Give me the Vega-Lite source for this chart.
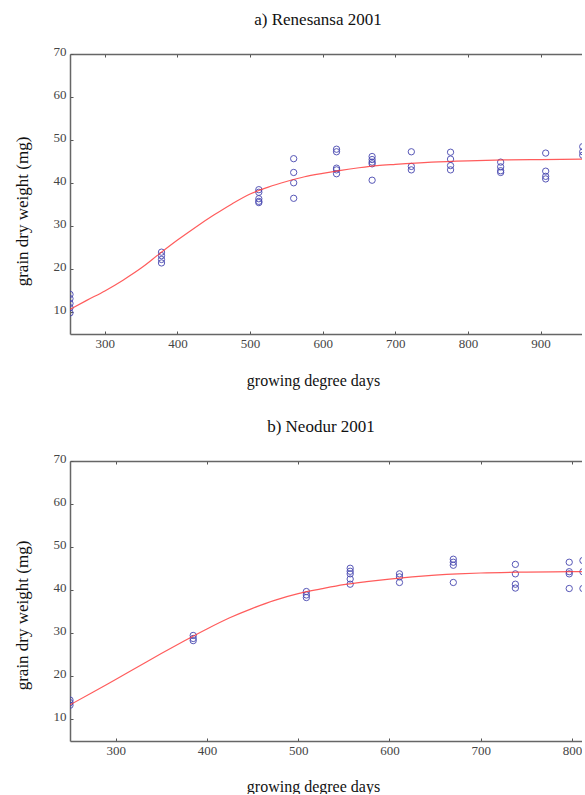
{
  "$schema": "https://vega.github.io/schema/vega-lite/v6.json",
  "background": "white",
  "padding": {"left": 13, "top": 11, "right": 0, "bottom": 0},
  "config": {
    "view": {"stroke": null, "strokeWidth": 0},
    "axis": {"grid": false, "domainColor": "#666", "domainWidth": 1.5, "tickColor": "#555", "tickWidth": 1, "labelFont": "Liberation Sans Narrow", "labelFontSize": 13, "labelColor": "#444", "labelOverlap": false, "labelFlush": false, "titleFont": "Liberation Serif", "titleFontWeight": "normal", "titleColor": "#111"},
    "title": {"font": "Liberation Serif", "fontSize": 17, "fontWeight": "normal", "color": "#111"}
  },
  "spacing": 30,
  "datasets": {
    "pa": [
      {"x": 252, "y": 14.2}, {"x": 252, "y": 13.2}, {"x": 252, "y": 12.1}, {"x": 252, "y": 11.1}, {"x": 252, "y": 9.9},
      {"x": 378, "y": 24.0}, {"x": 378, "y": 23.2}, {"x": 378, "y": 22.3}, {"x": 378, "y": 21.5},
      {"x": 512, "y": 38.5}, {"x": 512, "y": 37.9}, {"x": 512, "y": 36.4}, {"x": 512, "y": 35.8}, {"x": 512, "y": 35.5},
      {"x": 560, "y": 45.7}, {"x": 560, "y": 42.5}, {"x": 560, "y": 40.1}, {"x": 560, "y": 36.5},
      {"x": 619, "y": 47.9}, {"x": 619, "y": 47.3}, {"x": 619, "y": 43.5}, {"x": 619, "y": 43.1}, {"x": 619, "y": 42.2},
      {"x": 668, "y": 46.2}, {"x": 668, "y": 45.5}, {"x": 668, "y": 44.9}, {"x": 668, "y": 44.5}, {"x": 668, "y": 40.7},
      {"x": 722, "y": 47.3}, {"x": 722, "y": 43.9}, {"x": 722, "y": 43.1},
      {"x": 776, "y": 47.2}, {"x": 776, "y": 45.6}, {"x": 776, "y": 44.1}, {"x": 776, "y": 43.1},
      {"x": 845, "y": 44.9}, {"x": 845, "y": 43.8}, {"x": 845, "y": 42.9}, {"x": 845, "y": 42.5},
      {"x": 907, "y": 47.0}, {"x": 907, "y": 42.8}, {"x": 907, "y": 41.6}, {"x": 907, "y": 41.0},
      {"x": 958, "y": 48.5}, {"x": 958, "y": 47.3}, {"x": 958, "y": 46.5}
    ],
    "la": [
      {"x": 252, "y": 10.7}, {"x": 275, "y": 12.8}, {"x": 300, "y": 15.0}, {"x": 325, "y": 17.5}, {"x": 350, "y": 20.3},
      {"x": 375, "y": 23.6}, {"x": 400, "y": 26.8}, {"x": 425, "y": 29.8}, {"x": 450, "y": 32.6}, {"x": 475, "y": 35.2},
      {"x": 500, "y": 37.5}, {"x": 525, "y": 39.1}, {"x": 550, "y": 40.4}, {"x": 575, "y": 41.5}, {"x": 600, "y": 42.3},
      {"x": 625, "y": 43.0}, {"x": 650, "y": 43.6}, {"x": 675, "y": 44.1}, {"x": 700, "y": 44.4}, {"x": 750, "y": 44.9},
      {"x": 800, "y": 45.2}, {"x": 850, "y": 45.4}, {"x": 900, "y": 45.5}, {"x": 962, "y": 45.6}
    ],
    "pb": [
      {"x": 250, "y": 14.5}, {"x": 250, "y": 13.9}, {"x": 250, "y": 13.3},
      {"x": 385, "y": 29.5}, {"x": 385, "y": 28.8}, {"x": 385, "y": 28.3},
      {"x": 509, "y": 39.7}, {"x": 509, "y": 38.9}, {"x": 509, "y": 38.3},
      {"x": 557, "y": 45.1}, {"x": 557, "y": 44.4}, {"x": 557, "y": 43.8}, {"x": 557, "y": 42.6}, {"x": 557, "y": 41.4},
      {"x": 611, "y": 43.8}, {"x": 611, "y": 43.1}, {"x": 611, "y": 41.8},
      {"x": 670, "y": 47.2}, {"x": 670, "y": 46.5}, {"x": 670, "y": 45.8}, {"x": 670, "y": 41.8},
      {"x": 738, "y": 46.0}, {"x": 738, "y": 43.8}, {"x": 738, "y": 41.4}, {"x": 738, "y": 40.5},
      {"x": 797, "y": 46.5}, {"x": 797, "y": 44.3}, {"x": 797, "y": 43.8}, {"x": 797, "y": 40.4},
      {"x": 812, "y": 46.9}, {"x": 812, "y": 44.3}, {"x": 812, "y": 40.4}
    ],
    "lb": [
      {"x": 250, "y": 13.4}, {"x": 275, "y": 16.3}, {"x": 300, "y": 19.3}, {"x": 325, "y": 22.3}, {"x": 350, "y": 25.3},
      {"x": 375, "y": 28.2}, {"x": 400, "y": 31.0}, {"x": 425, "y": 33.6}, {"x": 450, "y": 35.8}, {"x": 475, "y": 37.7},
      {"x": 500, "y": 39.2}, {"x": 525, "y": 40.3}, {"x": 550, "y": 41.3}, {"x": 575, "y": 42.0}, {"x": 600, "y": 42.6},
      {"x": 625, "y": 43.1}, {"x": 650, "y": 43.5}, {"x": 675, "y": 43.8}, {"x": 700, "y": 44.0}, {"x": 750, "y": 44.2},
      {"x": 800, "y": 44.3}, {"x": 820, "y": 44.35}
    ]
  },
  "vconcat": [
    {
      "title": {"text": "a) Renesansa 2001", "offset": 16, "dx": -8},
      "width": 512,
      "height": 280,
      "encoding": {
        "y": {"field": "y", "type": "quantitative", "scale": {"domain": [5, 70], "nice": false, "zero": false},
          "axis": {"title": "grain dry weight (mg)", "titleFontSize": 17, "titleX": -48, "titleY": 157, "titleBaseline": "middle", "values": [10, 20, 30, 40, 50, 60, 70], "tickSize": -3, "labelPadding": 7, "labelOffset": -3}}
      },
      "layer": [
        {
          "data": {"name": "pa"},
          "mark": {"type": "point", "shape": "circle", "filled": false, "clip": true, "size": 40, "strokeWidth": 1, "color": "#4646b0", "opacity": 0.9},
          "encoding": {
            "x": {"field": "x", "type": "quantitative", "scale": {"domain": [252, 957], "nice": false, "zero": false},
              "axis": {"title": "growing degree days", "titleFontSize": 16, "titleX": 243, "titleY": 46, "titleBaseline": "middle", "values": [300, 400, 500, 600, 700, 800, 900], "tickSize": -3, "labelPadding": 6}}
          }
        },
        {
          "data": {"name": "la"},
          "mark": {"type": "line", "clip": true, "color": "#ff3333", "strokeWidth": 1.2, "opacity": 0.8, "interpolate": "monotone"},
          "encoding": {
            "x": {"field": "x", "type": "quantitative", "scale": {"domain": [252, 957], "nice": false, "zero": false},
              "axis": {"orient": "top", "labels": false, "title": null, "values": [300, 400, 500, 600, 700, 800, 900], "tickSize": -3}}
          }
        }
      ],
      "resolve": {"axis": {"x": "independent"}}
    },
    {
      "title": {"text": "b) Neodur 2001", "offset": 16, "dx": -5},
      "width": 512,
      "height": 280,
      "encoding": {
        "y": {"field": "y", "type": "quantitative", "scale": {"domain": [5, 70], "nice": false, "zero": false},
          "axis": {"title": "grain dry weight (mg)", "titleFontSize": 17, "titleX": -48, "titleY": 154, "titleBaseline": "middle", "values": [10, 20, 30, 40, 50, 60, 70], "tickSize": -3, "labelPadding": 7, "labelOffset": -3}}
      },
      "layer": [
        {
          "data": {"name": "pb"},
          "mark": {"type": "point", "shape": "circle", "filled": false, "clip": true, "size": 40, "strokeWidth": 1, "color": "#4646b0", "opacity": 0.9},
          "encoding": {
            "x": {"field": "x", "type": "quantitative", "scale": {"domain": [250, 811], "nice": false, "zero": false},
              "axis": {"title": "growing degree days", "titleFontSize": 16, "titleX": 243, "titleY": 45, "titleBaseline": "middle", "values": [300, 400, 500, 600, 700, 800], "tickSize": -3, "labelPadding": 6}}
          }
        },
        {
          "data": {"name": "lb"},
          "mark": {"type": "line", "clip": true, "color": "#ff3333", "strokeWidth": 1.2, "opacity": 0.8, "interpolate": "monotone"},
          "encoding": {
            "x": {"field": "x", "type": "quantitative", "scale": {"domain": [250, 811], "nice": false, "zero": false},
              "axis": {"orient": "top", "labels": false, "title": null, "values": [300, 400, 500, 600, 700, 800], "tickSize": -3}}
          }
        }
      ],
      "resolve": {"axis": {"x": "independent"}}
    }
  ]
}
